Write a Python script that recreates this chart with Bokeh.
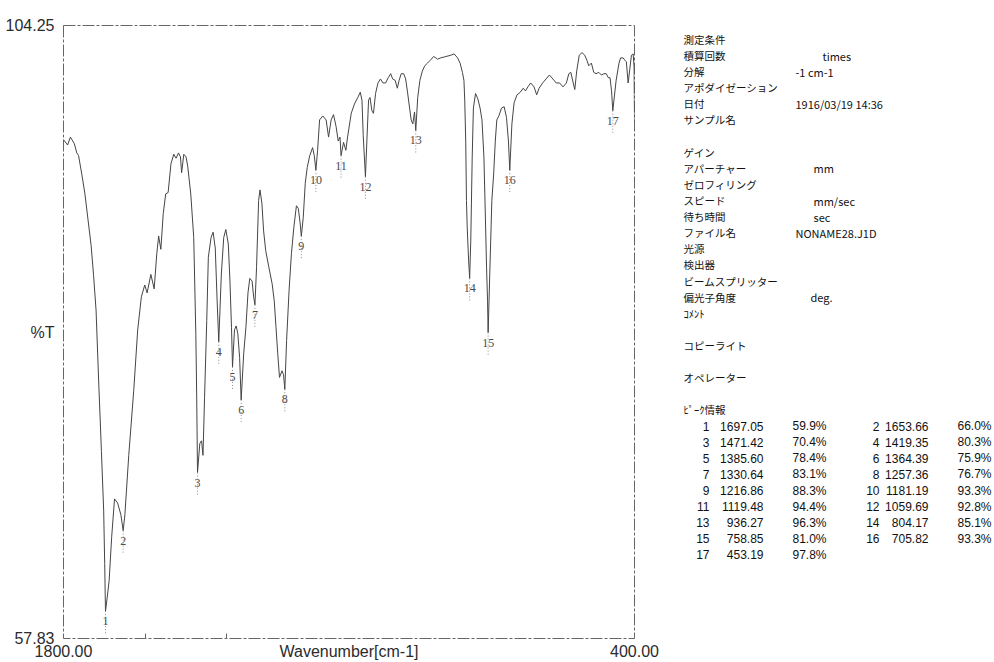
from bokeh.plotting import figure
from bokeh.models import Range1d, FixedTicker
from bokeh.layouts import row
from bokeh.embed import file_html
from bokeh.resources import INLINE
from bokeh.core.properties import value

# ---------------- data ----------------
wavenumber = [
    1800.0, 1789.9, 1783.1, 1773.4, 1767.4, 1763.1, 1755.2, 1747.5, 1740.1, 1732.3,
    1726.2, 1720.2, 1713.5, 1707.0, 1701.5, 1699.0, 1697.05, 1693.0, 1688.1, 1681.9,
    1674.9, 1667.4, 1659.3, 1653.66, 1649.5, 1640.0, 1627.8, 1618.1, 1609.1, 1600.8,
    1595.0, 1585.8, 1577.7, 1571.2, 1566.7, 1561.3, 1555.5, 1549.4, 1543.5, 1536.4,
    1529.6, 1524.0, 1518.0, 1513.2, 1510.4, 1505.0, 1499.5, 1495.5, 1488.0, 1480.7,
    1475.5, 1473.3, 1471.42, 1465.8, 1461.5, 1458.0, 1454.1, 1448.8, 1444.9, 1438.2,
    1433.2, 1427.9, 1423.3, 1419.35, 1412.9, 1407.1, 1402.0, 1395.9, 1391.9, 1388.1,
    1385.6, 1380.8, 1376.5, 1372.5, 1368.2, 1364.39, 1358.2, 1352.7, 1347.7, 1343.2,
    1337.6, 1333.8, 1330.64, 1326.7, 1321.6, 1318.2, 1313.6, 1309.4, 1304.2, 1296.2,
    1288.5, 1283.3, 1279.0, 1274.7, 1270.4, 1264.3, 1260.5, 1257.36, 1253.0, 1246.9,
    1241.1, 1235.1, 1228.9, 1224.3, 1219.8, 1216.86, 1212.2, 1207.3, 1202.4, 1196.2,
    1189.2, 1185.2, 1181.19, 1177.0, 1172.1, 1164.3, 1156.1, 1150.1, 1143.8, 1138.0,
    1131.7, 1126.4, 1122.1, 1119.48, 1113.4, 1107.7, 1103.5, 1094.5, 1086.7, 1078.4,
    1072.4, 1068.2, 1065.1, 1059.69, 1056.2, 1052.0, 1048.5, 1043.9, 1040.0, 1034.9,
    1028.9, 1022.9, 1016.7, 1010.1, 1003.8, 997.8, 993.0, 986.9, 981.5, 977.1,
    972.0, 965.9, 961.1, 956.5, 951.4, 947.6, 943.5, 939.3, 936.27, 931.5,
    926.2, 920.1, 914.3, 907.6, 901.2, 892.7, 887.1, 883.0, 874.8, 862.5,
    850.2, 842.1, 833.8, 827.6, 821.9, 818.2, 816.2, 813.8, 812.0, 810.2,
    806.8, 804.17, 801.4, 797.9, 795.0, 789.8, 784.2, 778.6, 774.0, 769.2,
    766.2, 762.7, 760.3, 758.85, 754.8, 749.8, 745.3, 741.3, 737.6, 732.6,
    726.0, 719.6, 713.9, 709.1, 705.82, 700.6, 695.2, 688.1, 679.8, 672.9,
    667.2, 661.4, 654.5, 646.3, 639.8, 633.9, 625.2, 616.8, 608.6, 600.1,
    592.0, 583.8, 575.3, 567.0, 561.0, 556.0, 550.3, 546.4, 541.7, 535.5,
    528.6, 522.0, 516.4, 512.2, 505.7, 499.9, 494.2, 487.4, 481.0, 474.9,
    469.2, 464.3, 460.0, 456.3, 453.19, 450.4, 445.0, 438.0, 434.0, 428.1,
    423.1, 420.0, 415.6, 412.1, 407.5, 403.3, 401.0, 400.0,
]
transmittance = [
    95.6, 95.2, 95.8, 95.3, 94.6, 94.4, 93.0, 91.5, 89.6, 87.6,
    85.3, 82.7, 77.1, 72.0, 67.5, 63.5, 59.9, 60.9, 62.2, 65.5,
    68.4, 68.1, 67.2, 66.0, 67.2, 71.7, 76.6, 81.2, 83.7, 84.6,
    84.0, 85.4, 84.3, 87.0, 88.3, 87.3, 90.0, 91.5, 91.6, 93.8,
    94.5, 94.2, 94.6, 94.3, 93.1, 94.5, 94.3, 93.6, 91.5, 88.2,
    80.8, 75.9, 70.4, 72.6, 72.8, 71.7, 76.1, 81.9, 86.7, 88.2,
    88.6, 87.4, 83.4, 80.3, 85.5, 88.2, 88.8, 87.7, 84.9, 81.4,
    78.4, 81.2, 81.5, 80.9, 79.1, 75.9, 79.4, 81.4, 84.0, 85.1,
    84.9, 83.7, 83.1, 85.9, 91.0, 91.8, 90.8, 88.7, 87.2, 85.9,
    84.7, 83.4, 81.4, 79.4, 77.6, 78.1, 77.8, 76.7, 80.4, 84.2,
    87.0, 89.0, 90.6, 90.4, 89.3, 88.3, 89.7, 92.3, 93.5, 94.4,
    95.0, 94.4, 93.3, 94.8, 97.1, 97.4, 97.1, 95.8, 97.1, 97.5,
    96.6, 95.5, 95.8, 94.4, 95.4, 94.8, 95.8, 97.6, 98.3, 98.8,
    99.2, 98.6, 95.9, 92.8, 95.5, 98.6, 98.8, 97.8, 97.6, 99.1,
    99.9, 100.2, 99.9, 99.9, 100.3, 100.6, 100.2, 100.1, 99.5, 100.1,
    100.6, 100.6, 100.2, 99.2, 98.0, 97.1, 96.8, 97.7, 96.3, 98.8,
    100.1, 100.8, 101.2, 101.4, 101.6, 101.9, 101.8, 101.7, 101.8, 101.9,
    102.0, 102.1, 101.8, 101.4, 100.7, 100.1, 98.6, 95.5, 91.0, 89.0,
    86.5, 85.1, 88.0, 94.3, 98.0, 99.1, 98.7, 98.0, 97.1, 94.3,
    90.5, 85.9, 83.4, 81.0, 85.5, 91.0, 93.0, 95.5, 97.1, 97.4,
    98.0, 98.1, 97.3, 95.5, 93.3, 96.8, 98.4, 99.0, 99.2, 99.5,
    99.3, 99.6, 99.9, 99.6, 99.0, 99.5, 99.9, 100.2, 100.5, 100.2,
    99.9, 99.9, 99.6, 99.9, 100.6, 100.7, 99.9, 99.4, 100.8, 102.0,
    102.2, 102.0, 101.6, 101.2, 101.4, 100.7, 100.6, 100.7, 100.5, 100.6,
    100.6, 100.3, 100.3, 99.3, 97.8, 98.6, 100.1, 101.4, 101.8, 101.8,
    101.6, 101.5, 99.9, 100.8, 102.0, 102.1, 101.1, 97.0,
]

peak_no = [1, 2, 3, 4, 5, 6, 7, 8, 9, 10, 11, 12, 13, 14, 15, 16, 17]
peak_wn = [1697.05, 1653.66, 1471.42, 1419.35, 1385.60, 1364.39, 1330.64, 1257.36,
           1216.86, 1181.19, 1119.48, 1059.69, 936.27, 804.17, 758.85, 705.82, 453.19]
peak_t = [59.9, 66.0, 70.4, 80.3, 78.4, 75.9, 83.1, 76.7,
          88.3, 93.3, 94.4, 92.8, 96.3, 85.1, 81.0, 93.3, 97.8]

x_start, x_end = 1800.00, 400.00
y_min, y_max = 57.83, 104.25
x_title = "Wavenumber[cm-1]"
y_title = "%T"

cond_labels = ["測定条件", "積算回数", "分解", "アポダイゼーション", "日付", "サンプル名", "",
               "ゲイン", "アパーチャー", "ゼロフィリング", "スピード", "待ち時間", "ファイル名",
               "光源", "検出器", "ビームスプリッター", "偏光子角度", "ｺﾒﾝﾄ", "",
               "コピーライト", "", "オペレーター", "", "ﾋﾟｰｸ情報"]
cond_values = ["", "times", "-1 cm-1", "", "1916/03/19 14:36", "", "",
               "", "mm", "", "mm/sec", "sec", "NONAME28.J1D",
               "", "", "", "deg.", "", "",
               "", "", "", "", ""]

# ---------------- main spectrum ----------------
FONT = "Liberation Sans"
TXT = "#2b2b2b"

p = figure(width=670, height=662,
           x_range=Range1d(x_start, x_end), y_range=Range1d(y_min, y_max),
           output_backend="svg", toolbar_location=None,
           min_border_left=63, min_border_right=36, min_border_top=25, min_border_bottom=24)
p.grid.visible = False
p.background_fill_color = "white"
p.border_fill_color = "white"
p.outline_line_color = "#666666"
p.outline_line_width = 1
p.outline_line_dash = "12 2 3 2"

p.xaxis.ticker = FixedTicker(ticks=[x_start, x_end], minor_ticks=[1600, 1400])
p.xaxis.major_label_overrides = {x_start: f"{x_start:.2f}", x_end: f"{x_end:.2f}"}
p.xaxis.axis_label = x_title
p.xaxis.axis_label_text_font_style = "normal"
p.xaxis.axis_label_text_font = FONT
p.xaxis.axis_label_text_font_size = "16px"
p.xaxis.axis_label_text_color = TXT
p.xaxis.axis_label_standoff = -17
p.xaxis.major_label_standoff = 0
p.xaxis.major_tick_line_color = None
p.xaxis.minor_tick_in = 5
p.xaxis.minor_tick_out = 0
p.xaxis.minor_tick_line_color = "#666666"

y_mid = round((y_min + y_max) / 2, 2)
p.yaxis.ticker = FixedTicker(ticks=[y_min, y_mid, y_max], minor_ticks=[])
p.yaxis.major_label_overrides = {y_min: f"{y_min:.2f}", y_mid: y_title, y_max: f"{y_max:.2f}"}
p.yaxis.major_tick_line_color = None
p.yaxis.minor_tick_line_color = None
p.yaxis.major_label_standoff = 3

for ax in (p.xaxis, p.yaxis):
    ax.axis_line_color = None
    ax.major_label_text_font = FONT
    ax.major_label_text_font_size = "16px"
    ax.major_label_text_color = TXT

p.line(wavenumber, transmittance, line_color="#454545", line_width=1)

p.segment(x0=peak_wn, y0=peak_t, x1=peak_wn, y1=[t - 1.7 for t in peak_t],
          line_color="#8a8a8a", line_width=1, line_dash="1 2")
p.text(x=peak_wn, y=peak_t, text=[str(n) for n in peak_no],
       text_font=value("Liberation Serif"), text_font_size="12px",
       text_color="#4a4a4a", text_align="center", text_baseline="middle", y_offset=10)

# ---------------- info panel ----------------
q = figure(width=324, height=662, x_range=Range1d(670, 994), y_range=Range1d(662, 0),
           output_backend="svg", toolbar_location=None, min_border=0,
           x_axis_location=None, y_axis_location=None)
q.grid.visible = False
q.outline_line_color = None
q.background_fill_color = "white"
q.border_fill_color = "white"

ROW0, STEP = 15.0, 17.4
CJK = value("Noto Sans CJK JP")
INK = "#111111"
row_y = [ROW0 + STEP * i for i in range(len(cond_labels))]
q.text(x=[683] * len(cond_labels), y=row_y, text=cond_labels, text_font=CJK,
       text_font_size="10.5px", text_color=INK, text_baseline="middle")

val_x = {"times": 822, "mm": 813, "mm/sec": 813, "sec": 813, "deg.": 810}
vi = [i for i, v in enumerate(cond_values) if v]
q.text(x=[val_x.get(cond_values[i], 795) for i in vi], y=[row_y[i] for i in vi],
       text=[cond_values[i] for i in vi], text_font=CJK, text_font_size="11px",
       text_color=INK, text_baseline="middle")

first = len(cond_labels)
n_rows = (len(peak_no) + 1) // 2
tbl_y = [ROW0 + STEP * (first + k) for k in range(n_rows)]
NUMF = value(FONT)
for col, (xn, xw, xp) in enumerate([(709, 763, 826), (879, 928, 991)]):
    idx = list(range(col, len(peak_no), 2))
    ys = [tbl_y[i // 2] for i in idx]
    q.text(x=[xn] * len(idx), y=ys, text=[str(peak_no[i]) for i in idx], text_font=NUMF,
           text_font_size="12px", text_color=INK, text_align="right", text_baseline="middle")
    q.text(x=[xw] * len(idx), y=ys, text=[f"{peak_wn[i]:.2f}" for i in idx], text_font=NUMF,
           text_font_size="12px", text_color=INK, text_align="right", text_baseline="middle")
    q.text(x=[xp] * len(idx), y=ys, text=[f"{peak_t[i]:.1f}%" for i in idx], text_font=NUMF,
           text_font_size="12px", text_color=INK, text_align="right", text_baseline="middle")

layout = row(p, q)
open("out.html", "w").write(file_html(layout, INLINE))
